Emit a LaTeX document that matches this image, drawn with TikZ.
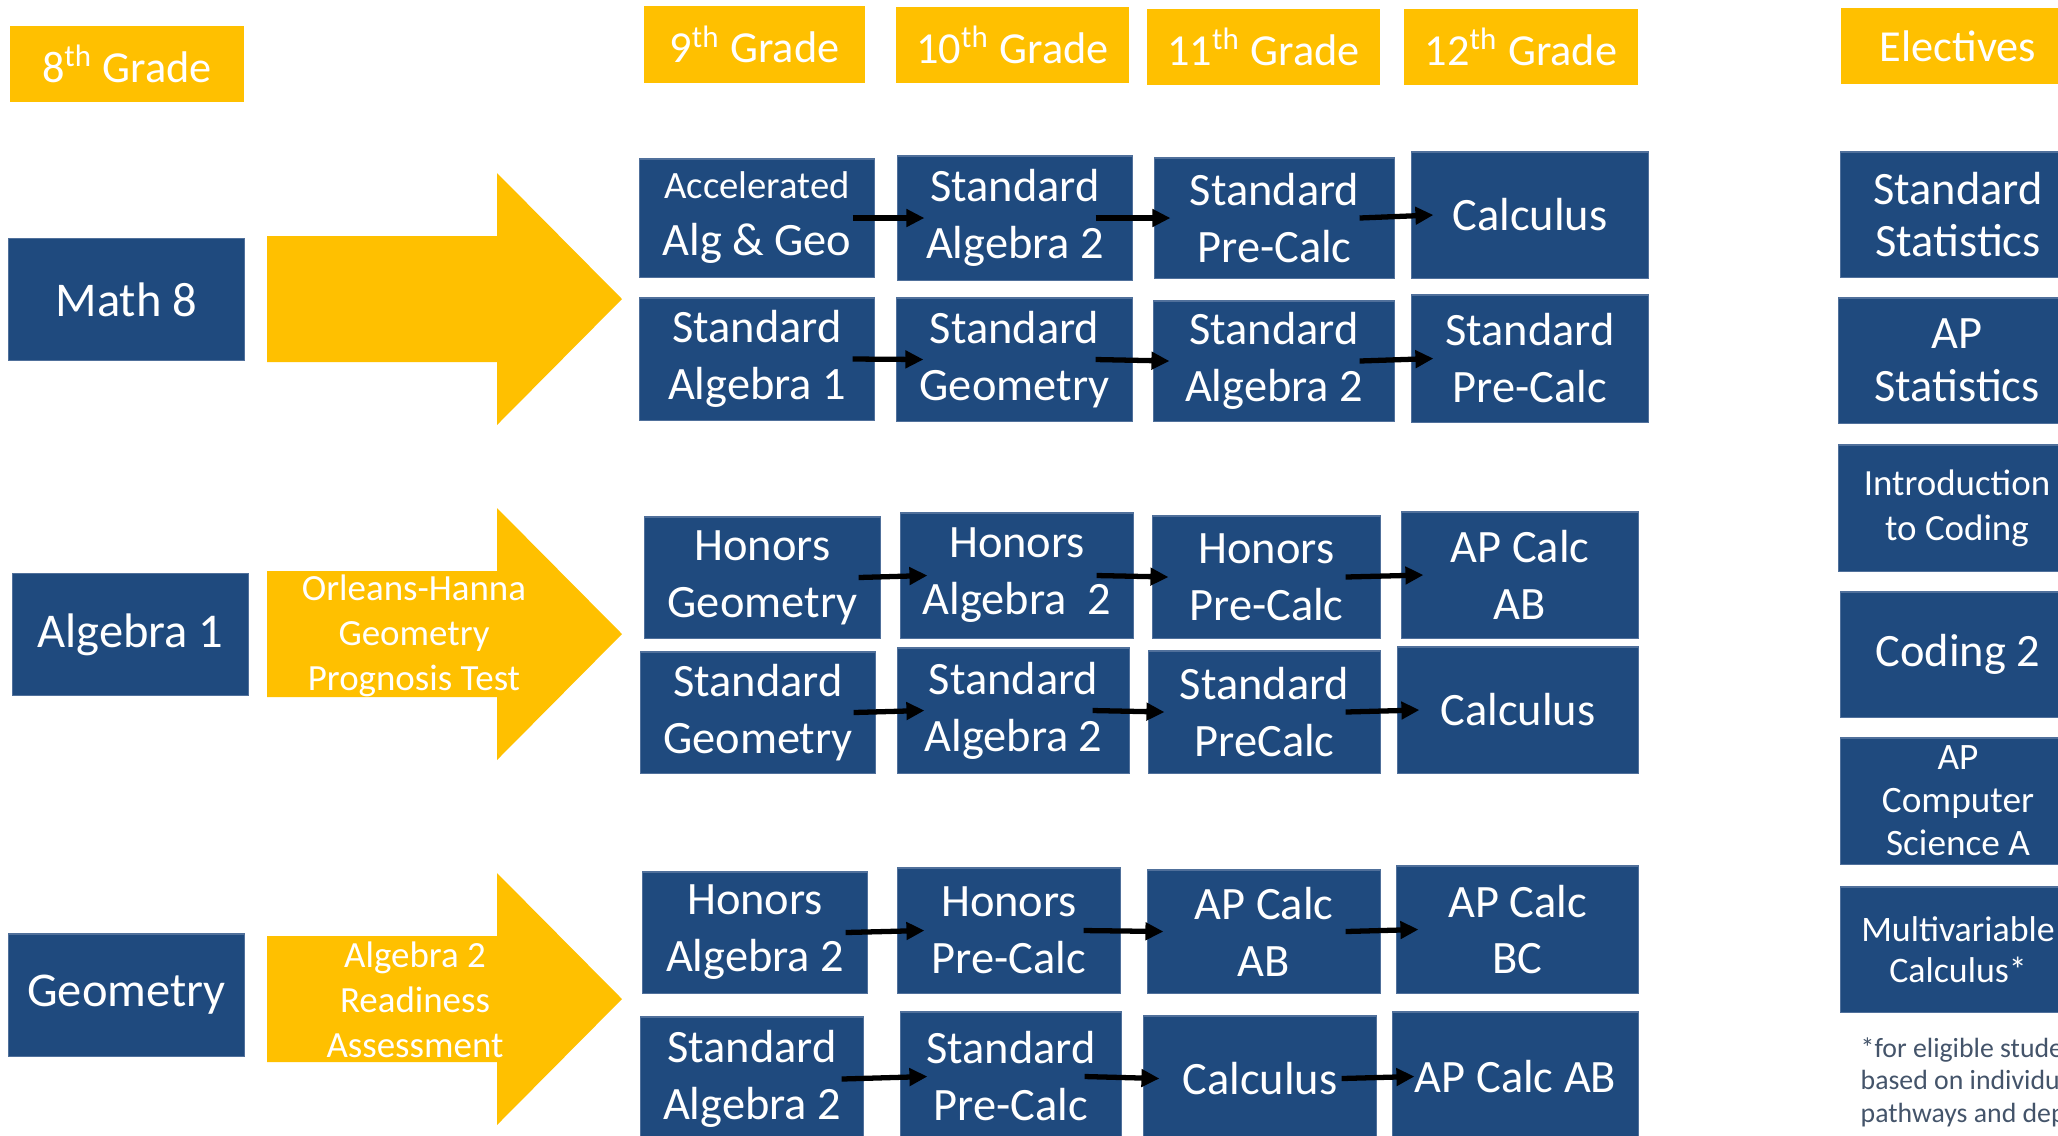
\documentclass[tikz,border=0pt]{standalone}
\usepackage{fontspec}
\setmainfont{Carlito}
\usetikzlibrary{arrows.meta}

\definecolor{navy}{RGB}{31,74,126}
\definecolor{edgeblue}{RGB}{80,112,155}
\definecolor{gold}{RGB}{255,192,0}
\definecolor{noteblue}{RGB}{68,84,106}

\tikzset{
  course/.style={fill=navy, draw=edgeblue, line width=.3pt, text=white, align=center,
    inner sep=0pt, minimum width=2.33cm, minimum height=1.22cm,
    font=\fontsize{13.2}{16.2}\selectfont},
  grade/.style={fill=gold, text=white, align=center, inner sep=0pt,
    minimum width=2.33cm, minimum height=0.76cm, font=\fontsize{12.6}{15}\selectfont},
  smalltext/.style={font=\fontsize{10.5}{12.8}\selectfont},
  flow/.style={line width=1.5pt, -{Triangle[length=0.18cm,width=0.17cm]}},
}

\begin{document}
\begin{tikzpicture}[x=0.01cm,y=-0.01cm]
      \useasboundingbox (0,0) rectangle (2058,1135);
      \clip (0,0) rectangle (2058,1135);

      % grade headers
      \node[grade, minimum width=2.34cm] (g8) at (127,64) {8\textsuperscript{th} Grade};
      \node[grade, minimum width=2.21cm, minimum height=0.77cm] (g9) at (754.5,44.5) {9\textsuperscript{th} Grade};
      \node[grade] (g10) at (1012.5,45) {10\textsuperscript{th} Grade};
      \node[grade] (g11) at (1263.5,47) {11\textsuperscript{th} Grade};
      \node[grade, minimum width=2.34cm] (g12) at (1521,47) {12\textsuperscript{th} Grade};
      \node[grade, minimum width=2.34cm] (elec) at (1958,46) {Electives};

      % 8th grade courses
      \node[course, minimum width=2.35cm, font=\fontsize{13.8}{16}\selectfont] (math8) at (126.5,299.5) {Math 8};
      \node[course, minimum width=2.35cm, font=\fontsize{13.8}{16}\selectfont] (alg1) at (130.5,634.5) {Algebra 1};
      \node[course, minimum width=2.35cm, font=\fontsize{13.8}{16}\selectfont] (geo) at (126.5,995) {Geometry};

      % big arrows
      \foreach \y in {299,634,999} {
        \fill[gold] (267,\y-63) -- (497,\y-63) -- (497,\y-126) -- (622,\y)
          -- (497,\y+126) -- (497,\y+63) -- (267,\y+63) -- cycle;
      }
      \node[smalltext, text=white, align=center, inner sep=0pt] (ohtest) at (414,636) {Orleans-Hanna\\Geometry\\Prognosis Test};
      \node[smalltext, text=white, align=center, inner sep=0pt] (readiness) at (415,1000) {Algebra 2\\Readiness\\Assessment};

      % track 1
      \node[course, minimum width=2.34cm, minimum height=1.18cm] (A1) at (757,218) {{\fontsize{11}{13}\selectfont Accelerated}\\Alg \& Geo};
      \node[course, minimum width=2.34cm, minimum height=1.24cm] (A2) at (1015,218) {Standard\\Algebra 2};
      \node[course, minimum width=2.39cm, minimum height=1.20cm] (A3) at (1274.5,218) {Standard\\Pre-Calc};
      \node[course, minimum width=2.36cm, minimum height=1.26cm] (A4) at (1530,215) {Calculus};

      \node[course, minimum width=2.34cm] (B1) at (757,359) {Standard\\Algebra 1};
      \node[course, minimum width=2.35cm, minimum height=1.23cm] (B2) at (1014.5,359.5) {Standard\\Geometry};
      \node[course, minimum width=2.40cm, minimum height=1.20cm] (B3) at (1274,361) {Standard\\Algebra 2};
      \node[course, minimum width=2.36cm, minimum height=1.27cm] (B4) at (1530,358.5) {Standard\\Pre-Calc};

      % track 2
      \node[course, minimum width=2.35cm, minimum height=1.21cm] (C1) at (762.5,577.5) {Honors\\Geometry};
      \node[course, minimum width=2.32cm, minimum height=1.25cm] (C2) at (1017,575.5) {Honors\\Algebra~~2};
      \node[course, minimum width=2.27cm] (C3) at (1266.5,577) {Honors\\Pre-Calc};
      \node[course, minimum width=2.36cm, minimum height=1.26cm] (C4) at (1520,575) {AP Calc\\AB};

      \node[course, minimum width=2.34cm, minimum height=1.21cm] (D1) at (758,712.5) {Standard\\Geometry};
      \node[course, minimum width=2.31cm, minimum height=1.25cm] (D2) at (1013.5,710.5) {Standard\\Algebra 2};
      \node[course, minimum width=2.31cm] (D3) at (1264.5,712) {Standard\\PreCalc};
      \node[course, minimum width=2.40cm, minimum height=1.26cm] (D4) at (1518,710) {Calculus};

      % track 3
      \node[course, minimum width=2.24cm, minimum height=1.21cm] (E1) at (755,932.5) {Honors\\Algebra 2};
      \node[course, minimum width=2.22cm, minimum height=1.25cm] (E2) at (1009,930.5) {Honors\\Pre-Calc};
      \node[course, minimum width=2.32cm, minimum height=1.23cm] (E3) at (1264,931.5) {AP Calc\\AB};
      \node[course, minimum width=2.41cm, minimum height=1.27cm] (E4) at (1517.5,929.5) {AP Calc\\BC};

      \node[course, minimum width=2.22cm, minimum height=1.24cm] (F1) at (752,1079) {Standard\\Algebra 2};
      \node[course, minimum width=2.20cm, minimum height=1.29cm] (F2) at (1011,1076.5) {Standard\\Pre-Calc};
      \node[course, minimum width=2.32cm, minimum height=1.25cm] (F3) at (1260,1078.5) {Calculus};
      \node[course, minimum width=2.45cm, minimum height=1.29cm] (F4) at (1515.5,1076.5) {AP Calc AB};

      \foreach \r in {A,B,C,D,E,F} {
        \draw[flow] ([xshift=-0.22cm]\r1.east) -- ([xshift=0.27cm]\r2.west);
        \draw[flow] ([xshift=-0.37cm]\r2.east) -- ([xshift=0.16cm]\r3.west);
        \draw[flow] ([xshift=-0.35cm]\r3.east) -- ([xshift=0.22cm]\r4.west);
      }

      % electives
      \node[course, minimum width=2.34cm, minimum height=1.25cm, font=\fontsize{13.2}{15}\selectfont] (stat) at (1958,214.5) {Standard\\Statistics};
      \node[course, minimum width=2.36cm, minimum height=1.25cm, font=\fontsize{13.2}{15}\selectfont] (apstat) at (1957,360.5) {AP\\Statistics};
      \node[course, minimum width=2.36cm, minimum height=1.26cm, smalltext] (intro) at (1957,508) {Introduction\\to Coding};
      \node[course, minimum width=2.34cm, minimum height=1.25cm] (coding) at (1958,654.5) {Coding 2};
      \node[course, minimum width=2.34cm, minimum height=1.26cm, font=\fontsize{10.6}{12.2}\selectfont] (apcs) at (1958,801) {AP\\Computer\\Science A};
      \node[course, minimum width=2.34cm, minimum height=1.25cm, font=\fontsize{10.2}{11.7}\selectfont] (multi) at (1958,949.5) {Multivariable\\Calculus*};

      \node[anchor=west, align=left, inner sep=0pt, text=noteblue, font=\fontsize{7.9}{9.2}\selectfont] (note) at (1860,1082) {*for eligible students\\based on individual\\pathways and department};
    \end{tikzpicture}
\end{document}
